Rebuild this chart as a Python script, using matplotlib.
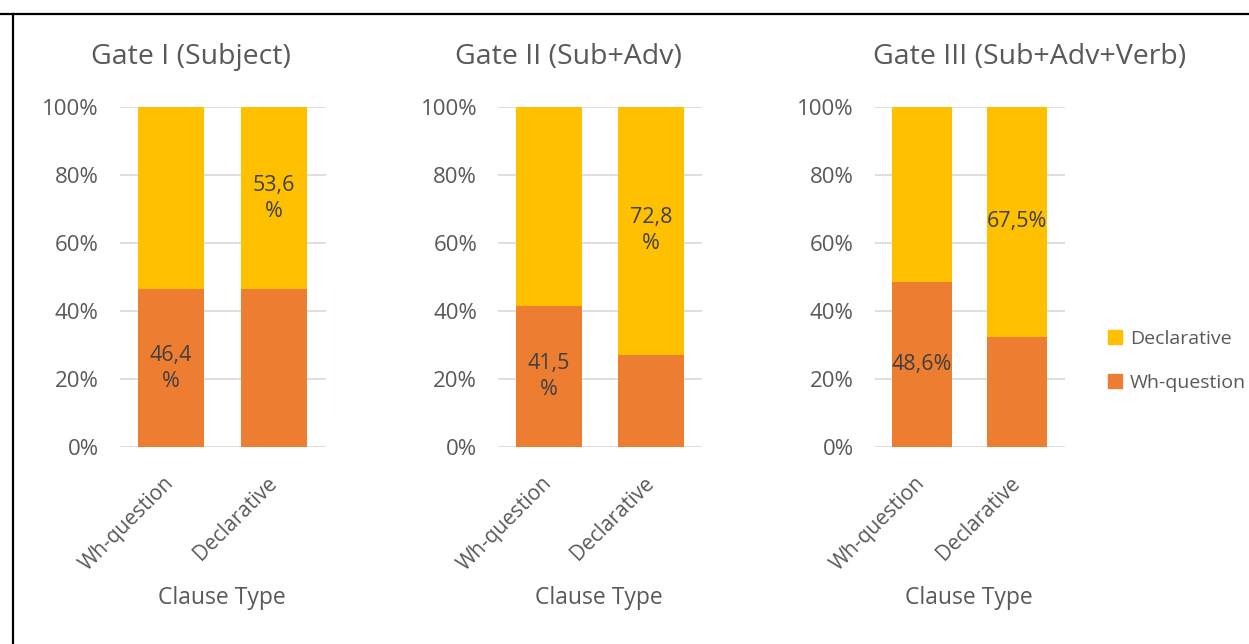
import matplotlib
matplotlib.use("Agg")
import matplotlib.pyplot as plt
import numpy as np
from matplotlib.lines import Line2D
from matplotlib.patches import Patch

plt.rcParams['font.family'] = ['Open Sans', 'DejaVu Sans']

# Data: share of each response type per clause type, per gate
clause_types = ['Wh-question', 'Declarative']
gate_titles = ['Gate I (Subject)', 'Gate II (Sub+Adv)', 'Gate III (Sub+Adv+Verb)']
wh_share = [[46.4, 46.4], [41.5, 27.2], [48.6, 32.5]]
decl_share = [[53.6, 53.6], [58.5, 72.8], [51.4, 67.5]]
# labelled segment per gate: (bar index, series, text)
bar_labels = [
    [(0, 'wh', '46,4\n%'), (1, 'decl', '53,6\n%')],
    [(0, 'wh', '41,5\n%'), (1, 'decl', '72,8\n%')],
    [(0, 'wh', '48,6%'), (1, 'decl', '67,5%')],
]

ORANGE = '#ED7D31'
YELLOW = '#FFC000'
GRID = '#D9D9D9'
TXT = '#595959'
LBL = '#404040'

fig = plt.figure(figsize=(12.49, 6.44), dpi=100)
W, H = 1249, 644

# axes boxes in pixels (left, right); shared vertical extent
boxes = [(119.5, 325.5), (498, 702), (874.5, 1064.5)]
y_bot, y_top = 447, 107
title_x = [191, 568, 1030]
xlabel_x = [222, 599, 969]

for k, (x0, x1) in enumerate(boxes):
    ax = fig.add_axes([x0 / W, 1 - y_bot / H, (x1 - x0) / W, (y_bot - y_top) / H])
    x = np.arange(len(clause_types))
    wh = np.array(wh_share[k])
    decl = np.array(decl_share[k])
    ax.bar(x, wh, width=0.64, color=ORANGE, zorder=3)
    ax.bar(x, decl, width=0.64, bottom=wh, color=YELLOW, zorder=3)

    for i, series, text in bar_labels[k]:
        if series == 'wh':
            yc = wh[i] / 2
        else:
            yc = wh[i] + decl[i] / 2
        ax.text(x[i], yc, text, ha='center', va='center', fontsize=15.5,
                color=LBL, linespacing=1.3, zorder=4)

    ax.set_xlim(-0.5, 1.5)
    ax.set_ylim(0, 100)
    ax.set_yticks(np.arange(0, 101, 20))
    ax.set_yticklabels([f'{v}%' for v in range(0, 101, 20)])
    ax.set_xticks(x)
    ax.set_xticklabels(clause_types, rotation=45, ha='right', va='center',
                       rotation_mode='anchor')
    ax.grid(True, axis='y', color=GRID, linewidth=1.2, zorder=0)
    for s in ax.spines.values():
        s.set_visible(False)
    ax.tick_params(axis='y', length=0, labelsize=16, colors=TXT, pad=15)
    ax.tick_params(axis='x', length=0, labelsize=15, colors=TXT, pad=24)
    ax.set_facecolor('none')

    fig.text(title_x[k] / W, 1 - 57 / H, gate_titles[k], ha='center', va='center',
             fontsize=20.5, color=TXT)
    fig.text(xlabel_x[k] / W, 1 - 598 / H, 'Clause Type', ha='center', va='center',
             fontsize=16.5, color=TXT)

handles = [Patch(color=YELLOW, label='Declarative'), Patch(color=ORANGE, label='Wh-question')]
fig.legend(handles=handles, loc='center left', bbox_to_anchor=(1090 / W, 1 - 361 / H),
           frameon=False, fontsize=14, labelcolor=TXT, handlelength=0.75,
           handleheight=0.75, handletextpad=0.4, labelspacing=1.35)

# outer frame on top and left
fig.add_artist(Line2D([0, 1], [1 - 14 / H] * 2, color='black', lw=1.6, transform=fig.transFigure))
fig.add_artist(Line2D([13 / W] * 2, [0, 1 - 14 / H], color='black', lw=1.6, transform=fig.transFigure))

fig.savefig('out.png', dpi=100, facecolor='white')
